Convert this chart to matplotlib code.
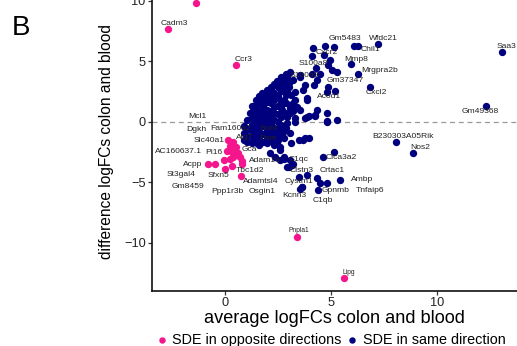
import matplotlib
matplotlib.use("Agg")
import matplotlib.pyplot as plt
from matplotlib.lines import Line2D

plt.rcParams['font.family'] = ['Liberation Sans', 'DejaVu Sans']

# SDE in same direction (navy)
same_x = [7.20, 6.08, 6.24, 5.93, 6.24, 6.81, 13.07, 12.31, 8.03, 8.85, 4.61, 5.11, 2.75,
          5.42, 4.48, 4.80, 4.32, 3.85, 4.37, 3.62, 3.54, 2.99, 3.22, 3.69, 3.93, 3.11, 2.72,
          4.15, 4.72, 5.11, 4.09, 4.64, 4.95, 4.87, 4.29, 5.03, 5.27, 4.48, 3.07, 2.75, 3.22,
          3.54, 2.99, 3.30, 3.69, 4.17, 4.87, 5.19, 4.80, 2.75, 3.30, 3.85, 3.07, 2.67, 3.85,
          4.25, 4.80, 4.80, 2.91, 3.30, 3.54, 4.09, 4.33, 3.77, 2.91, 2.67,
          2.75, 3.22, 3.54, 3.07, 3.85, 4.33, 2.91, 3.30, 5.27, 2.59, 3.07, 3.46, 3.77, 2.59,
          2.36, 2.75, 3.07, 2.12, 2.36, 2.59, 2.59, 2.44, 2.91, 3.15, 3.46, 3.62, 2.75, 2.44,
          3.77, 3.93, 4.25, 4.80, 1.50,
          0.90, 0.90, 0.90,
          1.05, 1.05, 1.05, 1.05,
          1.25, 1.25, 1.25, 1.25, 1.25, 1.25,
          1.45, 1.45, 1.45, 1.45, 1.45, 1.45, 1.45,
          1.60, 1.60, 1.60, 1.60, 1.60, 1.60, 1.60,
          1.80, 1.80, 1.80, 1.80, 1.80, 1.80, 1.80,
          1.95, 1.95, 1.95, 1.95, 1.95, 1.95, 1.95, 1.95,
          2.15, 2.15, 2.15, 2.15, 2.15, 2.15, 2.15, 2.15,
          2.30, 2.30, 2.30, 2.30, 2.30, 2.30, 2.30, 2.30,
          2.50, 2.50, 2.50, 2.50, 2.50, 2.50, 2.50,
          2.65, 2.65, 2.65, 2.65, 2.65, 2.65, 2.65,
          2.85, 2.85, 2.85, 2.85, 2.85,
          1.25, 1.35, 1.45, 1.60, 1.75, 1.95, 2.15, 2.30, 2.45, 2.65, 2.85, 2.40, 2.00,
          3.10, 3.20, 2.90, 3.40, 3.00, 1.15, 1.70, 2.05]
same_y = [6.38, 6.26, 6.26, 4.75, 3.98, 2.83, 5.72, 1.28, -1.67, -2.63, -2.91, -2.50, -3.10,
          -4.83, -5.06, -5.06, -4.70, -4.42, -5.66, -5.44, -5.60, -3.79, -3.54, -1.53, -1.39, -1.80, -0.84,
          6.05, 6.24, 6.13, 5.41, 5.50, 5.08, 4.67, 4.40, 4.26, 4.12, 3.93, 4.12, 3.43, 3.43,
          3.65, 2.88, 2.46, 2.60, 3.02, 2.83, 2.55, 2.46, 1.78, 1.78, 1.92, 1.09, 0.95, 0.40,
          0.54, 0.68, 0.07, 0.40, 0.26, 3.84, 3.98, 3.43, 3.02, 3.70, 2.60,
          1.50, 1.50, 0.95, 0.68, 1.78, 0.95, -0.15, 0.00, 0.12, -0.84, -0.98, -1.53, -1.39, -2.08,
          -1.80, -2.91, -3.18, -2.63, -2.91, -3.18, -2.36, -1.80, -3.74, -3.60, -4.56, -5.39, -1.39, -0.98,
          0.26, 0.45, 0.45, -0.02, -1.80,
          -1.5, -0.9, -0.4,
          -1.7, -1.2, -0.6, 0.1,
          -1.8, -1.3, -0.8, -0.3, 0.3, 0.8,
          -1.6, -1.1, -0.5, 0.0, 0.6, 1.1, 1.4,
          -1.9, -1.3, -0.8, -0.2, 0.4, 0.9, 1.6,
          -1.7, -1.0, -0.4, 0.2, 0.7, 1.3, 1.9,
          -1.8, -1.3, -0.7, -0.1, 0.5, 1.0, 1.6, 2.2,
          -1.6, -0.9, -0.3, 0.3, 0.9, 1.5, 2.0, 2.6,
          -1.9, -1.2, -0.5, 0.1, 0.7, 1.2, 1.8, 2.4,
          -1.5, -0.6, 0.0, 0.6, 1.3, 2.1, 2.9,
          -1.1, -0.3, 0.4, 1.1, 1.7, 2.5, 3.2,
          -0.5, 0.7, 1.5, 2.2, 3.0,
          1.30, 1.00, 1.80, 2.10, 2.40, 2.60, 2.90, 3.10, 3.40, 3.70, 3.90, 2.20, 1.90,
          2.20, 0.90, 2.50, 1.20, 3.20, 0.70, 0.20, -1.00]

# SDE in opposite directions (pink)
opp_x = [-1.37, -2.70, 0.50, 3.38, 5.58,
         0.14, 0.38, 0.24, 0.52, 0.09, 0.33, 0.61, 0.38, 0.71, 0.80, 0.24, -0.05,
         0.80, -0.47, -0.80, 0.00, 0.33, 0.75]
opp_y = [9.80, 7.67, 4.70, -9.55, -12.90,
         -1.53, -1.69, -2.02, -2.11, -2.44, -2.52, -2.60, -2.93, -2.93, -3.26, -3.10, -3.18,
         -3.51, -3.51, -3.51, -3.93, -3.68, -4.50]

# gene labels (text, x, y)
gene_names = ["Mcl1", "Dgkh", "Fam160a2", "Sord", "Slc40a1", "Atg7", "Pam", "AC160637.1",
              "Pi16", "Gca", "Acpp", "Adam19", "St3gal4", "Sfxn5", "Tbc1d2", "Adamtsl4",
              "Gm8459", "Ppp1r3b", "Osgin1", "C1qc", "Clstn3", "Cystm1", "Kcnn3", "C1qb",
              "Gpnmb", "Crtac1", "Clca3a2", "Ambp", "Tnfaip6", "B230303A05Rik", "Nos2",
              "Gm5483", "Wfdc21", "Chil1", "Cxcr2", "Mmp8", "S100a8", "Mrgpra2b", "S100a9",
              "Gm37347", "Acod1", "Cxcl2", "Saa3", "Gm49368", "Cadm3", "Ccr3"]
gene_x = [-1.33, -1.38, 0.26, 2.06, -0.75, 0.94, 2.03, -2.22,
          -0.52, 1.13, -1.51, 1.89, -2.08, -0.33, 1.18, 1.70,
          -1.75, 0.09, 1.75, 3.44, 3.58, 3.48, 3.25, 4.62,
          5.19, 5.05, 5.45, 6.46, 6.84, 8.40, 9.17,
          5.66, 7.45, 6.86, 4.80, 6.16, 4.15, 7.26, 3.73,
          5.66, 4.91, 7.12, 13.25, 12.03, -2.41, 0.85]
gene_y = [0.45, -0.62, -0.56, -0.54, -1.53, -1.34, -1.36, -2.44,
          -2.58, -2.30, -3.51, -3.18, -4.36, -4.42, -4.07, -4.92,
          -5.33, -5.80, -5.80, -3.10, -4.01, -4.98, -6.07, -6.49,
          -5.66, -4.07, -2.96, -4.78, -5.66, -1.20, -2.17,
          6.84, 6.84, 5.97, 5.69, 5.14, 4.81, 4.20, 3.84,
          3.37, 2.05, 2.38, 6.18, 0.87, 8.12, 5.14]
small_names = ["Pnpla1", "Lipg"]
small_x = [3.49, 5.83]
small_y = [-9.02, -12.46]

legend_labels = ["SDE in opposite directions", "SDE in same direction"]

pink = "#F5158D"
navy = "#00007F"

fig = plt.figure(figsize=(5.17, 3.46), dpi=100)
ax = fig.add_axes([0.294, 0.159, 0.716, 0.860])

ax.axhline(0, color="#9a9a9a", ls=(0, (4, 3)), lw=0.9, zorder=1)
ax.scatter(same_x, same_y, s=28, color=navy, linewidths=0, zorder=2)
ax.scatter(opp_x, opp_y, s=28, color=pink, linewidths=0, zorder=3)

for t, x, y in zip(gene_names, gene_x, gene_y):
    ax.text(x, y, t, fontsize=6.1, ha="center", va="center", color="#222222", zorder=4)
for t, x, y in zip(small_names, small_x, small_y):
    ax.text(x, y, t, fontsize=4.8, ha="center", va="center", color="#222222", zorder=4)

ax.set_xlim(-3.45, 14.0)
ax.set_ylim(-14.0, 10.6)
ax.set_xticks([0, 5, 10])
ax.set_yticks([-10, -5, 0, 5, 10])
ax.set_yticklabels(["\u221210", "\u22125", "0", "5", "10"])
ax.tick_params(direction="out", length=3, width=0.9, colors="#333333", labelsize=9.2,
               labelcolor="#222222", pad=1.5)
for side in ["top", "right"]:
    ax.spines[side].set_visible(False)
for side in ["left", "bottom"]:
    ax.spines[side].set_linewidth(1.2)
    ax.spines[side].set_color("#111111")

fig.text(0.6475, 0.080, "average logFCs colon and blood", fontsize=13.1, ha="center", va="center")
fig.text(0.206, 0.591, "difference logFCs colon and blood", fontsize=11.2, rotation=90,
         ha="center", va="center")
fig.text(0.022, 0.92, "B", fontsize=20, ha="left", va="center")

# legend drawn by hand at the bottom
leg_y = 0.0173
for (mx, tx), col, lab in zip([(0.3128, 0.3327), (0.6803, 0.7015)], [pink, navy], legend_labels):
    fig.add_artist(Line2D([mx], [leg_y], marker="o", ls="", color=col, markersize=3.6,
                          transform=fig.transFigure))
    fig.text(tx, leg_y, lab, fontsize=10.4, ha="left", va="center")

fig.savefig("out.png", dpi=100)
